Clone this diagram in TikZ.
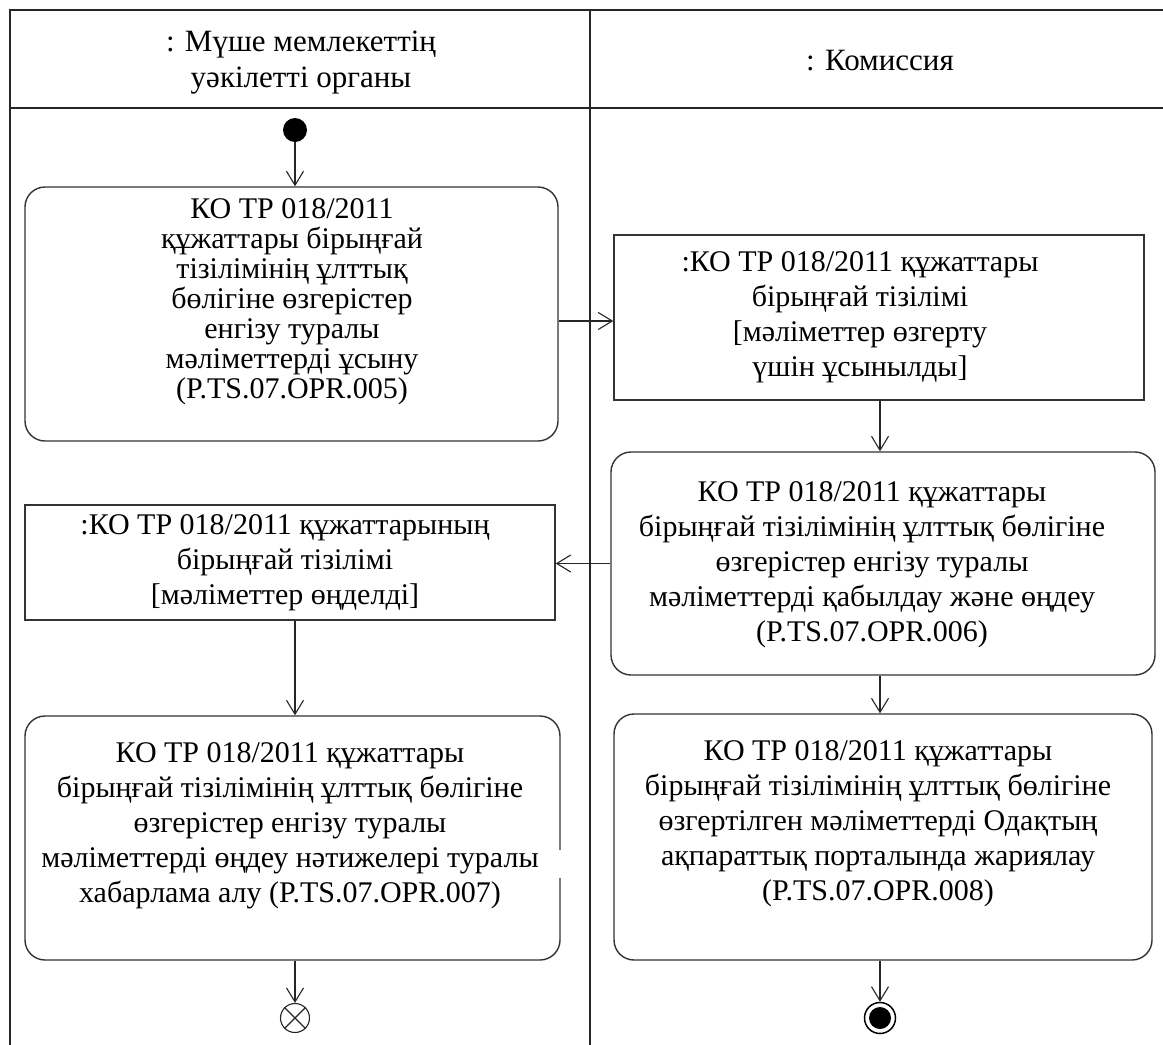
\documentclass[tikz,border=0pt]{standalone}
\usepackage{fontspec}
\setmainfont{Liberation Serif}
\usetikzlibrary{arrows.meta}
\begin{document}
\begin{tikzpicture}[x=1pt,y=-1pt,
  lane/.style={line width=2pt, draw=black!85},
  rbox/.style={draw=black!80, line width=1.4pt, rounded corners=20pt, inner sep=0pt},
  obox/.style={draw=black!80, line width=1.4pt, inner sep=0pt},
  txt/.style={align=center, font=\fontsize{30}{35}\selectfont, inner sep=0pt},
  txtb/.style={align=center, font=\fontsize{30}{30}\selectfont, inner sep=0pt},
  head/.style={align=center, font=\fontsize{31}{36}\selectfont, inner sep=0pt},
  flow/.style={draw=black!85, line width=1.1pt, -{Straight Barb[length=14pt,width=17pt,line width=1.1pt]}},
]
\useasboundingbox (0,0) rectangle (1163,1045);
\fill[white] (0,0) rectangle (1163,1045);
% swimlanes
\coordinate (tl) at (10,10);
\coordinate (tr) at (1163,10);
\coordinate (hl) at (10,108);
\coordinate (hr) at (1163,108);
\coordinate (bl) at (10,1045);
\coordinate (dt) at (590,10);
\coordinate (db) at (590,1045);
\draw[lane] (tr) -- (tl) -- (bl);
\draw[lane] (hl) -- (hr);
\draw[lane] (dt) -- (db);
\node[head] (h1) at (301,63) {: Мүше мемлекеттің\\уәкілетті органы};
\node[head] (h2) at (880,61) {: Комиссия};
% start
\node[circle, fill=black, minimum size=24pt, inner sep=0pt] (start) at (295,130) {};
% boxes
\node[rbox, minimum width=533pt, minimum height=254pt] (b1) at (291.5,314) {};
\node[txtb] (t1) at (292,302) {КО ТР 018/2011\\құжаттары бірыңғай\\тізілімінің ұлттық\\бөлігіне өзгерістер\\енгізу туралы\\мәліметтерді ұсыну\\(P.TS.07.OPR.005)};
\node[obox, minimum width=530pt, minimum height=165pt] (b2) at (879,317.5) {};
\node[txt] (t2) at (860,317) {:КО ТР 018/2011 құжаттары\\бірыңғай тізілімі\\{[}мәліметтер өзгерту\\үшін ұсынылды{]}};
\node[rbox, minimum width=544pt, minimum height=223pt] (b3) at (883,563.5) {};
\node[txt] (t3) at (872,565) {КО ТР 018/2011 құжаттары\\бірыңғай тізілімінің ұлттық бөлігіне\\өзгерістер енгізу туралы\\мәліметтерді қабылдау және өңдеу\\(P.TS.07.OPR.006)};
\node[obox, minimum width=530pt, minimum height=115pt] (b4) at (290,562.5) {};
\node[txt] (t4) at (285,563) {:КО ТР 018/2011 құжаттарының\\бірыңғай тізілімі\\{[}мәліметтер өңделді{]}};
\node[rbox, minimum width=535pt, minimum height=244pt] (b5) at (292.5,838) {};
\node[txt] (t5) at (290,826) {КО ТР 018/2011 құжаттары\\бірыңғай тізілімінің ұлттық бөлігіне\\өзгерістер енгізу туралы\\мәліметтерді өңдеу нәтижелері туралы\\хабарлама алу (P.TS.07.OPR.007)};
\fill[white] (555,850) rectangle (566,878);
\node[rbox, minimum width=538pt, minimum height=246pt] (b6) at (883,837) {};
\node[txt] (t6) at (878,824) {КО ТР 018/2011 құжаттары\\бірыңғай тізілімінің ұлттық бөлігіне\\өзгертілген мәліметтерді Одақтың\\ақпараттық порталында жариялау\\(P.TS.07.OPR.008)};
% final nodes
\node[circle, draw=black!85, line width=1.1pt, minimum size=29pt, inner sep=0pt] (fe) at (295,1018) {};
\draw[black!85, line width=1.1pt] (fe.north west) -- (fe.south east) (fe.north east) -- (fe.south west);
\node[circle, draw=black, line width=1.5pt, minimum size=31pt, inner sep=0pt] (end) at (880,1018) {};
\fill[black] (end) circle (11pt);
% flows
\path (b1.east) ++(0,7) coordinate (p1);
\draw[flow] (start.south) -- (start.south |- b1.north);
\draw[flow] (p1) -- (p1 -| b2.west);
\draw[flow] (b2.south -| end) -- (b3.north -| end);
\draw[flow] (b3.west) -- (b3.west -| b4.east);
\draw[flow] (b4.south -| start) -- (b5.north -| start);
\draw[flow] (b5.south -| start) -- (fe.north);
\draw[flow] (b3.south -| end) -- (b6.north -| end);
\draw[flow] (b6.south -| end) -- (end.north);
\end{tikzpicture}
\end{document}
